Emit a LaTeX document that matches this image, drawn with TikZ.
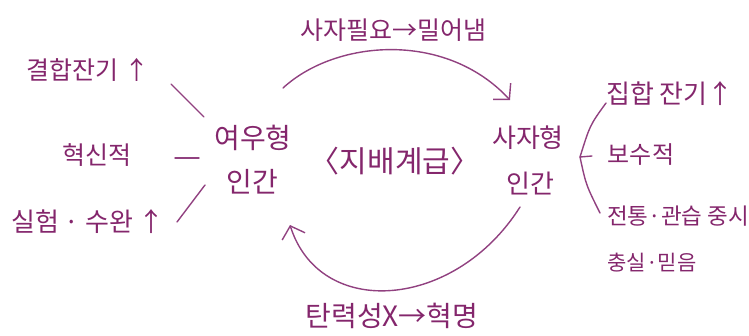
\documentclass[tikz,border=0pt]{standalone}
\usepackage{fontspec}
\setmainfont{Noto Sans CJK KR}
\usetikzlibrary{arrows.meta}
\definecolor{ink}{RGB}{132,38,108}
\definecolor{pen}{RGB}{145,65,128}
\newcommand{\fs}[1]{\fontsize{#1}{#1}\selectfont}
\begin{document}
\begin{tikzpicture}[x=1pt,y=-1pt,
  lbl/.style={text=ink,inner sep=0pt},
  stroke/.style={draw=pen,line width=1.4pt,line cap=round,line join=round},
  barb/.style={stroke,-{Straight Barb[length=11pt,width=24pt,line width=1.4pt]}}]
\useasboundingbox (0,0) rectangle (749,335);
% labels
\node[lbl,font=\fs{25}] (top) at (393,30) {사자필요→밀어냄};
\node[lbl,font=\fs{28}] (bot) at (392,316) {탄력성X→혁명};
\node[lbl,font=\fs{25}] (l1) at (88,70) {결합잔기 ↑};
\node[lbl,font=\fs{25}] (l2) at (97,155) {혁신적};
\node[lbl,font=\fs{26}] (l3) at (88,222) {실험 · 수완 ↑};
\node[lbl,font=\fs{28}] (fox1) at (253,138) {여우형};
\node[lbl,font=\fs{28}] (fox2) at (252,182) {인간};
\node[lbl,font=\fs{30}] (rule) at (395,161) {〈지배계급〉};
\node[lbl,font=\fs{26}] (lion1) at (528,138) {사자형};
\node[lbl,font=\fs{26}] (lion2) at (530,183) {인간};
\node[lbl,font=\fs{26}] (r1) at (670,94) {집합 잔기↑};
\node[lbl,font=\fs{24}] (r2) at (641,155) {보수적};
\node[lbl,font=\fs{22.5}] (r3) at (678,216) {전통·관습 중시};
\node[lbl,font=\fs{21}] (r4) at (652,263) {충실·믿음};
% arcs
\coordinate (ta) at (283,88);
\coordinate (tb) at (510,100);
\draw[barb] (ta) .. controls (335,40) and (445,30) .. (tb);
\coordinate (ba) at (520,207);
\coordinate (bb) at (290,225);
\draw[barb] (ba) .. controls (455,310) and (320,320) .. (bb);
% left strokes
\coordinate (a1) at (171,84);
\coordinate (a2) at (204,117);
\coordinate (b1) at (175,158);
\coordinate (b2) at (199,158);
\coordinate (c1) at (177,222);
\coordinate (c2) at (205,185);
\draw[stroke] (a1) -- (a2);
\draw[stroke] (b1) -- (b2);
\draw[stroke] (c1) -- (c2);
% right bracket
\coordinate (k1) at (606,103);
\coordinate (k0) at (580,157);
\coordinate (k2) at (600,213);
\coordinate (k3) at (592,156);
\draw[stroke] (k1) .. controls (590,125) .. (k0) .. controls (586,185) .. (k2);
\draw[stroke] (k0) -- (k3);
\end{tikzpicture}
\end{document}
